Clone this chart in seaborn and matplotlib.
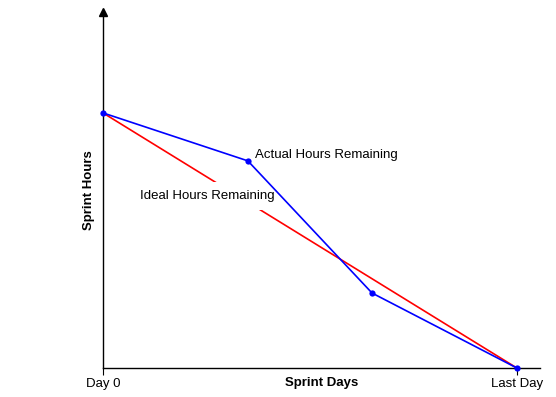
import seaborn as sns
import pandas as pd
import matplotlib.pyplot as plt

# sprint burndown data (hours, with Day 0 = 100)
days = [0, 3.5, 6.5, 10]
actual_hours = [100, 81.2, 29.4, 0]
ideal_days = [0, 10]
ideal_hours = [100, 0]
tick_pos = [0, 10]
tick_labels = ["Day 0", "Last Day"]

sns.set_style("white")
plt.rcParams['font.family'] = ['Liberation Sans', 'DejaVu Sans']
plt.rcParams['text.color'] = 'black'
plt.rcParams['axes.labelcolor'] = 'black'
plt.rcParams['xtick.color'] = 'black'

fig = plt.figure(figsize=(5.56, 3.97), dpi=100)
ax = fig.add_axes([0.1853, 0.073, 0.786, 0.897])

ideal = pd.DataFrame({'Day': ideal_days, 'Hours': ideal_hours})
actual = pd.DataFrame({'Day': days, 'Hours': actual_hours})

sns.lineplot(x='Day', y='Hours', data=ideal, color='#ff0000', linewidth=1.2, ax=ax, zorder=2)
sns.lineplot(x='Day', y='Hours', data=actual, color='#0000ff', linewidth=1.2,
             marker='o', markersize=4.5, markeredgewidth=0, ax=ax, clip_on=False, zorder=4)

ax.set_xlim(0, 10.56)
ax.set_ylim(0, 139.6)
ax.set_xticks(tick_pos)
ax.set_xticklabels(tick_labels, fontsize=9.5)
ax.set_yticks([])
ax.tick_params(axis='x', direction='out', length=5, width=0.8, pad=2, bottom=True)
for s in ['top', 'right']:
    ax.spines[s].set_visible(False)
for s in ['left', 'bottom']:
    ax.spines[s].set_color('black')
    ax.spines[s].set_linewidth(1.0)

# arrow head on the y axis
ax.plot(0, 1, '^', color='black', markersize=6, transform=ax.get_xaxis_transform(), clip_on=False)

ax.set_xlabel("Sprint Days", fontsize=9.5, fontweight='bold', labelpad=-9)
ax.set_ylabel("Sprint Hours", fontsize=9.5, fontweight='bold', labelpad=6)

ax.text(3.68, 83.5, "Actual Hours Remaining", fontsize=9.5, va='center', zorder=5)
ax.text(0.9, 67.5, "Ideal Hours Remaining", fontsize=9.5, va='center', zorder=3,
        bbox=dict(facecolor='white', edgecolor='none', pad=6))

fig.savefig('out.png', dpi=100)
